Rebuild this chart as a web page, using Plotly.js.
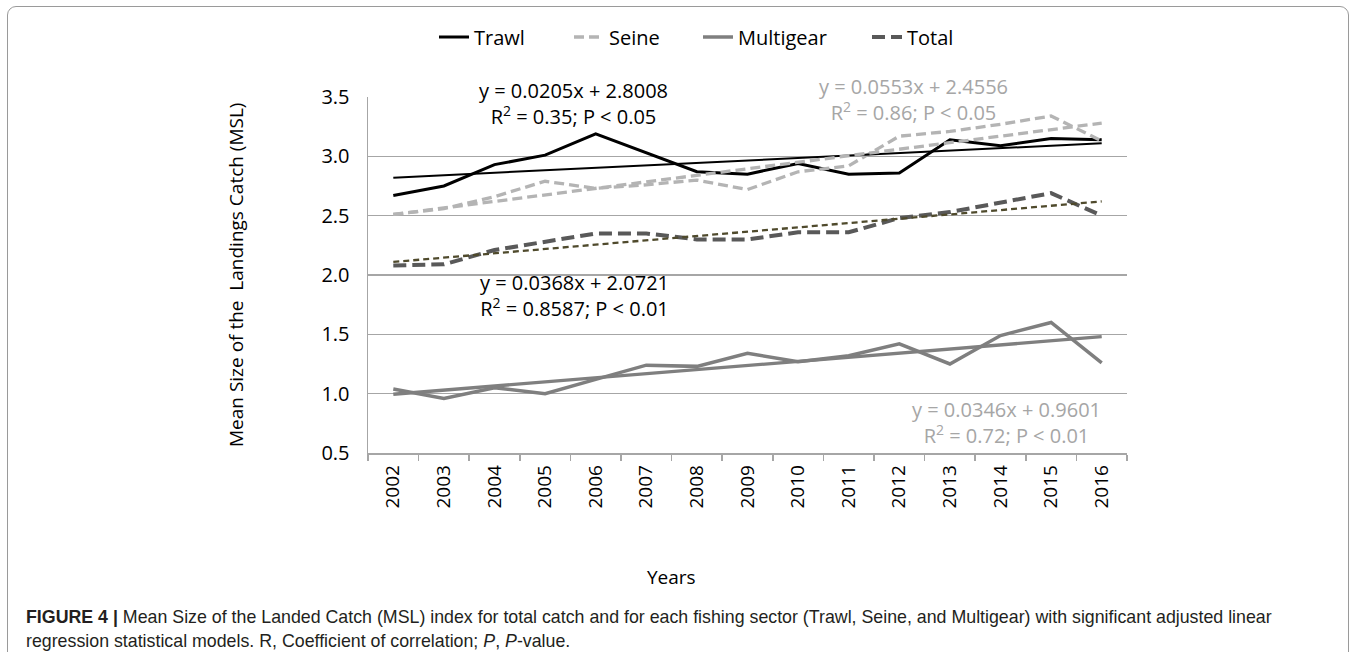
<!DOCTYPE html>
<html>
<head>
<meta charset="utf-8">
<script src="https://cdn.plot.ly/plotly-3.0.1.min.js"></script>
<style>
  html, body { margin:0; padding:0; background:#fff; overflow:hidden; }
  #frame { position:absolute; left:7px; top:6px; width:1342px; height:670px; border:1px solid #9a9a9a; border-radius:9px; box-sizing:border-box; }
  #chart { position:absolute; left:0; top:0; width:1357px; height:652px; }
</style>
</head>
<body>
<div id="frame"></div>
<div id="chart"></div>
<script>
// ---- data ----
const years = ['2002','2003','2004','2005','2006','2007','2008','2009','2010','2011','2012','2013','2014','2015','2016'];
const trawl     = [2.67, 2.75, 2.93, 3.01, 3.19, 3.03, 2.87, 2.85, 2.94, 2.85, 2.86, 3.14, 3.09, 3.15, 3.14];
const seine     = [2.51, 2.56, 2.66, 2.79, 2.73, 2.76, 2.80, 2.72, 2.87, 2.92, 3.17, 3.21, 3.27, 3.34, 3.13];
const multigear = [1.04, 0.96, 1.05, 1.00, 1.12, 1.24, 1.23, 1.34, 1.27, 1.32, 1.42, 1.25, 1.49, 1.60, 1.26];
const total     = [2.08, 2.09, 2.21, 2.28, 2.35, 2.35, 2.30, 2.30, 2.36, 2.36, 2.48, 2.53, 2.61, 2.69, 2.50];
// fitted trend lines: values at first and last year
const trendYears     = ['2002', '2016'];
const trawlTrend     = [2.82, 3.11];
const seineTrend     = [2.51, 3.28];
const multigearTrend = [0.995, 1.48];
const totalTrend     = [2.11, 2.62];
const seriesNames = ['Trawl', 'Seine', 'Multigear', 'Total'];
const yTicks = [0.5, 1.0, 1.5, 2.0, 2.5, 3.0, 3.5];
const eqTexts = {
  trawl: ['y = 0.0205x + 2.8008', 'R<sup>2</sup> = 0.35; P < 0.05'],
  seine: ['y = 0.0553x + 2.4556', 'R<sup>2</sup> = 0.86; P < 0.05'],
  total: ['y = 0.0368x + 2.0721', 'R<sup>2</sup> = 0.8587; P < 0.01'],
  multigear: ['y = 0.0346x + 0.9601', 'R<sup>2</sup> = 0.72; P < 0.01']
};
const captionLine1 = '<b>FIGURE 4 |</b> Mean Size of the Landed Catch (MSL) index for total catch and for each fishing sector (Trawl, Seine, and Multigear) with significant adjusted linear';
const captionLine2 = 'regression statistical models. R, Coefficient of correlation; <i>P</i>, <i>P</i>-value.';

// ---- layout geometry (pixels) ----
const W = 1357, H = 652;
const PL = 368, PR = 1127, PT = 97, PB = 453;
const px = x => (x - PL) / (PR - PL);
const py = y => (PB - y) / (PB - PT);

const FONT = '"Open Sans", "Noto Sans", sans-serif';
const CAPFONT = '"Liberation Sans", Arial, sans-serif';
const cTrawl = '#000000', cSeine = '#b4b4b4', cMulti = '#7f7f7f', cTotal = '#595959', cTotTrend = '#4f4a2c';

const traces = [
  {x: years, y: trawl, name: seriesNames[0], mode: 'lines', line: {color: cTrawl, width: 3}, legend: 'legend'},
  {x: years, y: seine, name: seriesNames[1], mode: 'lines', line: {color: cSeine, width: 3.3, dash: '10px,5px'}, legend: 'legend2'},
  {x: years, y: multigear, name: seriesNames[2], mode: 'lines', line: {color: cMulti, width: 3.5}, legend: 'legend3'},
  {x: years, y: total, name: seriesNames[3], mode: 'lines', line: {color: cTotal, width: 4, dash: '13px,6px'}, legend: 'legend4'},
  {x: trendYears, y: trawlTrend, mode: 'lines', line: {color: cTrawl, width: 2}, showlegend: false, hoverinfo: 'skip'},
  {x: trendYears, y: seineTrend, mode: 'lines', line: {color: cSeine, width: 3.3, dash: '10px,5px'}, showlegend: false, hoverinfo: 'skip'},
  {x: trendYears, y: multigearTrend, mode: 'lines', line: {color: cMulti, width: 3.3}, showlegend: false, hoverinfo: 'skip'},
  {x: trendYears, y: totalTrend, mode: 'lines', line: {color: cTotTrend, width: 2.3, dash: '6px,4px'}, showlegend: false, hoverinfo: 'skip'}
];

function legendAt(xPix) {
  return {x: px(xPix), xanchor: 'left', y: py(37), yanchor: 'middle', orientation: 'h',
          bgcolor: 'rgba(0,0,0,0)', borderwidth: 0, font: {family: FONT, size: 20, color: '#000'}};
}

function eq(xPix, yPix, lines, color) {
  return {xref: 'paper', yref: 'paper', x: px(xPix), y: py(yPix), text: lines.join('<br>'), align: 'center',
          showarrow: false, xanchor: 'center', yanchor: 'middle',
          font: {family: FONT, size: 20, color: color}};
}

const annotations = [
  eq(573, 103, eqTexts.trawl, '#000'),
  eq(913, 100, eqTexts.seine, '#a6a6a6'),
  eq(574, 295, eqTexts.total, '#000'),
  eq(1006, 422, eqTexts.multigear, '#a6a6a6'),
  {xref: 'paper', yref: 'paper', x: px(236), y: py(275), text: 'Mean Size of the  Landings Catch (MSL)', textangle: -90,
   showarrow: false, xanchor: 'center', yanchor: 'middle', font: {family: FONT, size: 19, color: '#000'}},
  {xref: 'paper', yref: 'paper', x: px(671), y: py(577), text: 'Years',
   showarrow: false, xanchor: 'center', yanchor: 'middle', font: {family: FONT, size: 19, color: '#000'}},
  {xref: 'paper', yref: 'paper', x: px(24), y: py(617), text: captionLine1,
   showarrow: false, xanchor: 'left', yanchor: 'middle', font: {family: CAPFONT, size: 17.8, color: '#231f20'}},
  {xref: 'paper', yref: 'paper', x: px(24), y: py(641), text: captionLine2,
   showarrow: false, xanchor: 'left', yanchor: 'middle', font: {family: CAPFONT, size: 17.8, color: '#231f20'}}
];

const layout = {
  width: W, height: H,
  margin: {l: PL, r: W - PR, t: PT, b: H - PB, pad: 0},
  paper_bgcolor: 'rgba(0,0,0,0)', plot_bgcolor: 'rgba(0,0,0,0)',
  showlegend: true,
  legend: legendAt(434), legend2: legendAt(569), legend3: legendAt(698), legend4: legendAt(867),
  xaxis: {
    type: 'category', range: [-0.5, 14.5], tickangle: -90,
    ticks: 'outside', tickson: 'boundaries', ticklen: 6, tickcolor: '#a6a6a6', tickwidth: 1.5,
    showline: true, linecolor: '#a6a6a6', linewidth: 1.5, showgrid: false, zeroline: false,
    tickfont: {family: FONT, size: 19, color: '#000'}, ticklabelstandoff: 3, fixedrange: true
  },
  yaxis: {
    range: [0.5, 3.5], tickvals: yTicks, tickformat: '.1f', ticks: '',
    showline: true, linecolor: '#a6a6a6', linewidth: 1.5,
    showgrid: true, gridcolor: '#a6a6a6', gridwidth: 1.5, zeroline: false,
    tickfont: {family: FONT, size: 20, color: '#000'}, ticklabelstandoff: 13, fixedrange: true
  },
  annotations: annotations
};

Plotly.newPlot('chart', traces, layout, {displayModeBar: false, staticPlot: true});
</script>
</body>
</html>
